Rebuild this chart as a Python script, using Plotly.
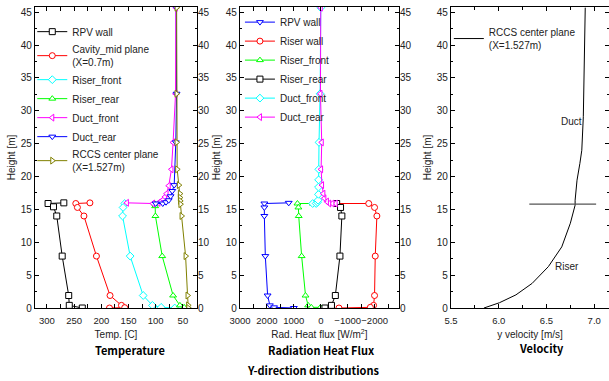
import plotly.graph_objects as go

# ---------------- Temperature panel data ----------------
rpv_T = [269, 298, 288, 282, 272, 260, 259, 235]
rpv_T_h = [16.0, 15.9, 15.4, 14.0, 7.9, 1.9, 0.4, 0.0]

cav_T = [221, 247, 244, 232, 209, 184, 163, 157, 185]
cav_T_h = [16.0, 15.9, 15.3, 14.0, 7.9, 1.9, 0.4, 0.05, 0.0]

riserf_T = [157, 160, 161, 147, 123, 106, 90, 65]
riserf_T_h = [15.9, 15.3, 14.0, 7.9, 1.9, 0.4, 0.1, 0.0]

riserr_T = [102, 101, 100.5, 88, 68, 55.5, 47.6]
riserr_T_h = [15.9, 15.5, 14.0, 7.9, 1.9, 0.4, 0.1]

ductf_T = [153, 105, 95, 91, 86, 83, 80, 76, 71, 68, 63.5, 63]
ductf_T_h = [16.0, 15.9, 16.0, 16.2, 16.5, 16.9, 17.4, 18.6, 21.1, 25.2, 32.6, 45.7]

ductr_T = [100, 87, 81, 76, 72.6, 69.6, 66, 63, 61.6, 62]
ductr_T_h = [15.9, 15.9, 16.1, 16.4, 17.0, 17.8, 18.7, 25.2, 32.6, 45.7]

rccs_T = [61.5, 61.6, 61.6, 60.5, 57.4, 55.5, 55.5, 55, 54.5, 52.4, 45, 41.4, 40.3, 40]
rccs_T_h = [45.7, 32.6, 25.2, 21.1, 18.7, 17.4, 16.8, 16.3, 15.8, 14.0, 7.9, 1.9, 0.4, 0.0]

# ---------------- Radiation heat flux panel data ----------------
rpv_Q = [1190, 2094, 2094, 2094, 2058, 1973, 1889, 1733, 1000]
rpv_Q_h = [16.0, 15.9, 15.3, 14.0, 7.9, 1.9, 0.4, 0.1, 0.0]

riserw_Q = [-590, -1780, -1996, -2083, -2022, -1996, -1960, -1841, -675]
riserw_Q_h = [15.9, 15.9, 15.3, 14.0, 7.9, 1.9, 0.4, 0.1, 0.0]

riserf_Q = [300, 866, 830, 818, 710, 566, 469, 350, 12]
riserf_Q_h = [15.9, 15.9, 15.3, 14.0, 7.9, 1.9, 0.4, 0.1, 0.1]

riserr_Q = [-590, -734, -783, -711, -541, -397, -155]
riserr_Q_h = [15.9, 15.3, 14.0, 7.9, 1.9, 0.4, 0.0]

ductf_Q = [300, 170, 120, 100, 85, 85, 80, 72, 65, 25, 0]
ductf_Q_h = [15.9, 15.9, 16.1, 16.4, 17.3, 18.4, 19.5, 21.1, 25.2, 32.6, 45.7]

ductr_Q = [-553, -433, -313, -228, -133, -96, -47, -12, -36, 12, 0]
ductr_Q_h = [15.9, 15.9, 15.9, 16.2, 16.7, 17.4, 18.7, 21.1, 25.2, 32.6, 45.7]

# ---------------- Velocity panel data ----------------
vel = [5.845, 6.007, 6.18, 6.35, 6.52, 6.66, 6.75, 6.80, 6.80, 6.82, 6.85, 6.87, 6.886, 6.896, 6.906]
vel_h = [0, 0.8, 2.0, 3.75, 6.3, 9.3, 12.9, 15.65, 16.4, 19.45, 22.0, 24.0, 29.1, 36.7, 45.7]
sep_v = [6.32, 7.02]
sep_h = [15.8, 15.8]

FAM = "Liberation Sans Narrow, Arial Narrow, Liberation Sans, Arial"
TF = dict(family=FAM, size=10, color="#222")
TFX = dict(family=FAM, size=9.5, color="#222")
LF = dict(family=FAM, size=10, color="#222")
BF = dict(family="Noto Sans CJK KR, Noto Sans, sans-serif", size=11, color="#000")

fig = go.Figure()

def add(x, y, name, color, symbol, xa, ya, legend):
    fig.add_trace(go.Scatter(
        x=x, y=y, name=name, mode="lines+markers",
        line=dict(color=color, width=1),
        marker=dict(symbol=symbol, size=6, color="white", line=dict(color=color, width=1)),
        xaxis=xa, yaxis=ya, legend=legend))

add(rpv_T, rpv_T_h, "RPV wall", "#000000", "square", "x", "y", "legend")
add(cav_T, cav_T_h, "Cavity_mid plane<br>(X=0.7m)", "#FF0000", "circle", "x", "y", "legend")
add(riserf_T, riserf_T_h, "Riser_front", "#00FFFF", "diamond", "x", "y", "legend")
add(riserr_T, riserr_T_h, "Riser_rear", "#00FF00", "triangle-up", "x", "y", "legend")
add(ductf_T, ductf_T_h, "Duct_front", "#FF00FF", "triangle-left", "x", "y", "legend")
add(ductr_T, ductr_T_h, "Duct_rear", "#0000FF", "triangle-down", "x", "y", "legend")
add(rccs_T, rccs_T_h, "RCCS center plane<br>(X=1.527m)", "#808000", "triangle-right", "x", "y", "legend")

add(rpv_Q, rpv_Q_h, "RPV wall", "#0000FF", "triangle-down", "x2", "y3", "legend2")
add(riserw_Q, riserw_Q_h, "Riser wall", "#FF0000", "circle", "x2", "y3", "legend2")
add(riserf_Q, riserf_Q_h, "Riser_front", "#00FF00", "triangle-up", "x2", "y3", "legend2")
add(riserr_Q, riserr_Q_h, "Riser_rear", "#000000", "square", "x2", "y3", "legend2")
add(ductf_Q, ductf_Q_h, "Duct_front", "#00FFFF", "diamond", "x2", "y3", "legend2")
add(ductr_Q, ductr_Q_h, "Duct_rear", "#FF00FF", "triangle-left", "x2", "y3", "legend2")

fig.add_trace(go.Scatter(x=vel, y=vel_h, name="RCCS center plane<br>(X=1.527m)", mode="lines",
                         line=dict(color="#000000", width=1), xaxis="x3", yaxis="y5", legend="legend3"))
fig.add_trace(go.Scatter(x=sep_v, y=sep_h, mode="lines", showlegend=False,
                         line=dict(color="#555555", width=1.2), xaxis="x3", yaxis="y5"))

# invisible carriers so the right-hand mirrored height axes are drawn
fig.add_trace(go.Scatter(x=rpv_T, y=rpv_T_h, mode="none", showlegend=False, hoverinfo="skip",
                         xaxis="x", yaxis="y2"))
fig.add_trace(go.Scatter(x=rpv_Q, y=rpv_Q_h, mode="none", showlegend=False, hoverinfo="skip",
                         xaxis="x2", yaxis="y4"))

YD = [0.1916, 0.9816]
YR = [0, 45.8]

def xax(domain, rng, dtick, minor, title, anchor, fmt=None):
    d = dict(domain=domain, range=rng, anchor=anchor, dtick=dtick, ticks="inside", ticklen=4,
             tickcolor="#000", mirror="allticks", showline=True, linecolor="#000", linewidth=1.2,
             showgrid=False, zeroline=False, tickfont=TFX, tickangle=0, automargin=False,
             ticklabelstandoff=3,
             minor=dict(ticks="inside", ticklen=3, dtick=minor, tickcolor="#000"),
             title=dict(text=title, font=LF, standoff=6))
    if fmt:
        d["tickformat"] = fmt
    return d

def yax(anchor, title=None, side="left", overlaying=None):
    d = dict(domain=YD, range=YR, anchor=anchor, dtick=5, ticks="inside", ticklen=4, tickcolor="#000",
             showgrid=False, zeroline=False, tickfont=TF, side=side, automargin=False,
             minor=dict(ticks="inside", ticklen=2, dtick=2.5, tickcolor="#000"))
    if overlaying:
        d.update(overlaying=overlaying, showline=False)
    else:
        d.update(mirror="allticks", showline=True, linecolor="#000", linewidth=1.2)
    if title:
        d["title"] = dict(text=title, font=LF, standoff=3)
    return d

fig.update_layout(
    width=609, height=381, margin=dict(l=0, r=0, t=0, b=0),
    paper_bgcolor="white", plot_bgcolor="white",
    xaxis=xax([0.0575, 0.3235], [322, 24], 50, 25, "Temp. [C]", "y"),
    xaxis2=xax([0.394, 0.655], [3000, -2900], 1000, 500, "Rad. Heat flux [W/m<sup>2</sup>]", "y3"),
    xaxis3=xax([0.7406, 1.0], [5.5, 7.155], 0.5, 0.25, "y velocity [m/s]", "y5", ".1f"),
    yaxis=yax("x", "Height [m]"),
    yaxis2=yax("x", side="right", overlaying="y"),
    yaxis3=yax("x2", "Height [m]"),
    yaxis4=yax("x2", side="right", overlaying="y3"),
    yaxis5=yax("x3", "Height [m]"),
    legend=dict(x=0.053, y=0.955, xanchor="left", yanchor="top", bgcolor="rgba(0,0,0,0)",
                font=LF, tracegroupgap=0, itemwidth=30),
    legend2=dict(x=0.394, y=0.98, xanchor="left", yanchor="top", bgcolor="rgba(0,0,0,0)",
                 font=LF, tracegroupgap=0, itemwidth=30),
    legend3=dict(x=0.737, y=0.95, xanchor="left", yanchor="top", bgcolor="rgba(0,0,0,0)",
                 font=LF, tracegroupgap=0, itemwidth=30),
    showlegend=True,
    annotations=[
        dict(text="<b>Temperature</b>", x=130 / 609, y=1 - 350 / 381, xref="paper", yref="paper",
             xanchor="center", yanchor="middle", showarrow=False, font=BF),
        dict(text="<b>Radiation Heat Flux</b>", x=321 / 609, y=1 - 350 / 381, xref="paper", yref="paper",
             xanchor="center", yanchor="middle", showarrow=False, font=BF),
        dict(text="<b>Velocity</b>", x=541 / 609, y=1 - 348 / 381, xref="paper", yref="paper",
             xanchor="center", yanchor="middle", showarrow=False, font=BF),
        dict(text="<b>Y-direction distributions</b>", x=313 / 609, y=1 - 370 / 381, xref="paper",
             yref="paper", xanchor="center", yanchor="middle", showarrow=False, font=BF),
        dict(text="Duct", x=6.76, y=28.4, xref="x3", yref="y5", showarrow=False, font=LF),
        dict(text="Riser", x=6.71, y=6.3, xref="x3", yref="y5", showarrow=False, font=LF),
    ],
)

fig.write_html("out.html")
